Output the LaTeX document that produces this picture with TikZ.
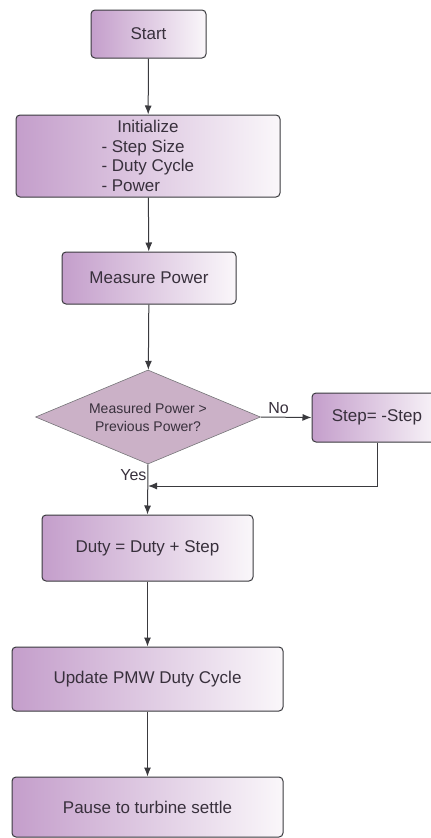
\documentclass[tikz,border=0pt]{standalone}
\usepackage{fontspec}
\setmainfont{Liberation Sans}
\usetikzlibrary{arrows.meta,shapes.geometric}
\definecolor{lilac}{RGB}{196,158,203}
\definecolor{paper}{RGB}{250,247,250}
\definecolor{ink}{RGB}{56,48,60}
\definecolor{edge}{RGB}{58,58,62}
\definecolor{rhomb}{RGB}{203,177,199}

\begin{document}
\begin{tikzpicture}[x=1pt,y=-1pt,
  every node/.style={text=ink,font=\fontsize{17}{19.5}\selectfont},
  box/.style={draw=edge,line width=1pt,rounded corners=4pt,left color=lilac,right color=paper,inner sep=0pt},
  test/.style={diamond,draw=edge!70,line width=0.6pt,fill=rhomb,inner sep=0pt,aspect=2.4,font=\fontsize{14}{18}\selectfont,align=center},
  conn/.style={draw=edge,line width=1pt,-{Latex[length=9pt,width=7pt]}},
  wire/.style={draw=edge,line width=1pt}]
\useasboundingbox (0,0) rectangle (431,838);

\node[box,minimum width=115pt,minimum height=48pt] (start) at (148.5,34) {Start};
\node[box,minimum width=264pt,minimum height=82pt,align=left] (init) at (148,156)
  {\makebox[93pt]{Initialize}\\- Step Size\\- Duty Cycle\\- Power};
\node[box,minimum width=174pt,minimum height=52pt] (measure) at (149,278) {Measure Power};
\node[test,minimum width=225pt,minimum height=94pt] (check) at (148,417) {Measured Power >\\Previous Power?};
\node[box,minimum width=130pt,minimum height=49pt] (negstep) at (377,417.5) {Step= -Step};
\node[box,minimum width=211pt,minimum height=66pt] (duty) at (147.5,548) {Duty = Duty + Step};
\node[box,minimum width=271pt,minimum height=64pt] (update) at (147.5,679) {Update PMW Duty Cycle};
\node[box,minimum width=271pt,minimum height=60pt] (pause) at (147.5,807) {Pause to turbine settle};
\coordinate (join) at (148,486);

% main flow
\draw[conn] (start) -- (init);
\draw[conn] (init) -- (measure);
\draw[conn] (measure) -- (check);
\draw[conn] (check.east) -- node[above,font=\fontsize{16}{18}\selectfont,pos=0.35] {No} (negstep.west);
\draw[conn] (check.south) -- node[pos=0.22,left,inner sep=1pt,font=\fontsize{16}{18}\selectfont] {Yes} (duty.north);
\draw[conn] (negstep.south) |- (join);
\draw[conn] (duty) -- (update);
\draw[conn] (update) -- (pause);
\end{tikzpicture}
\end{document}
